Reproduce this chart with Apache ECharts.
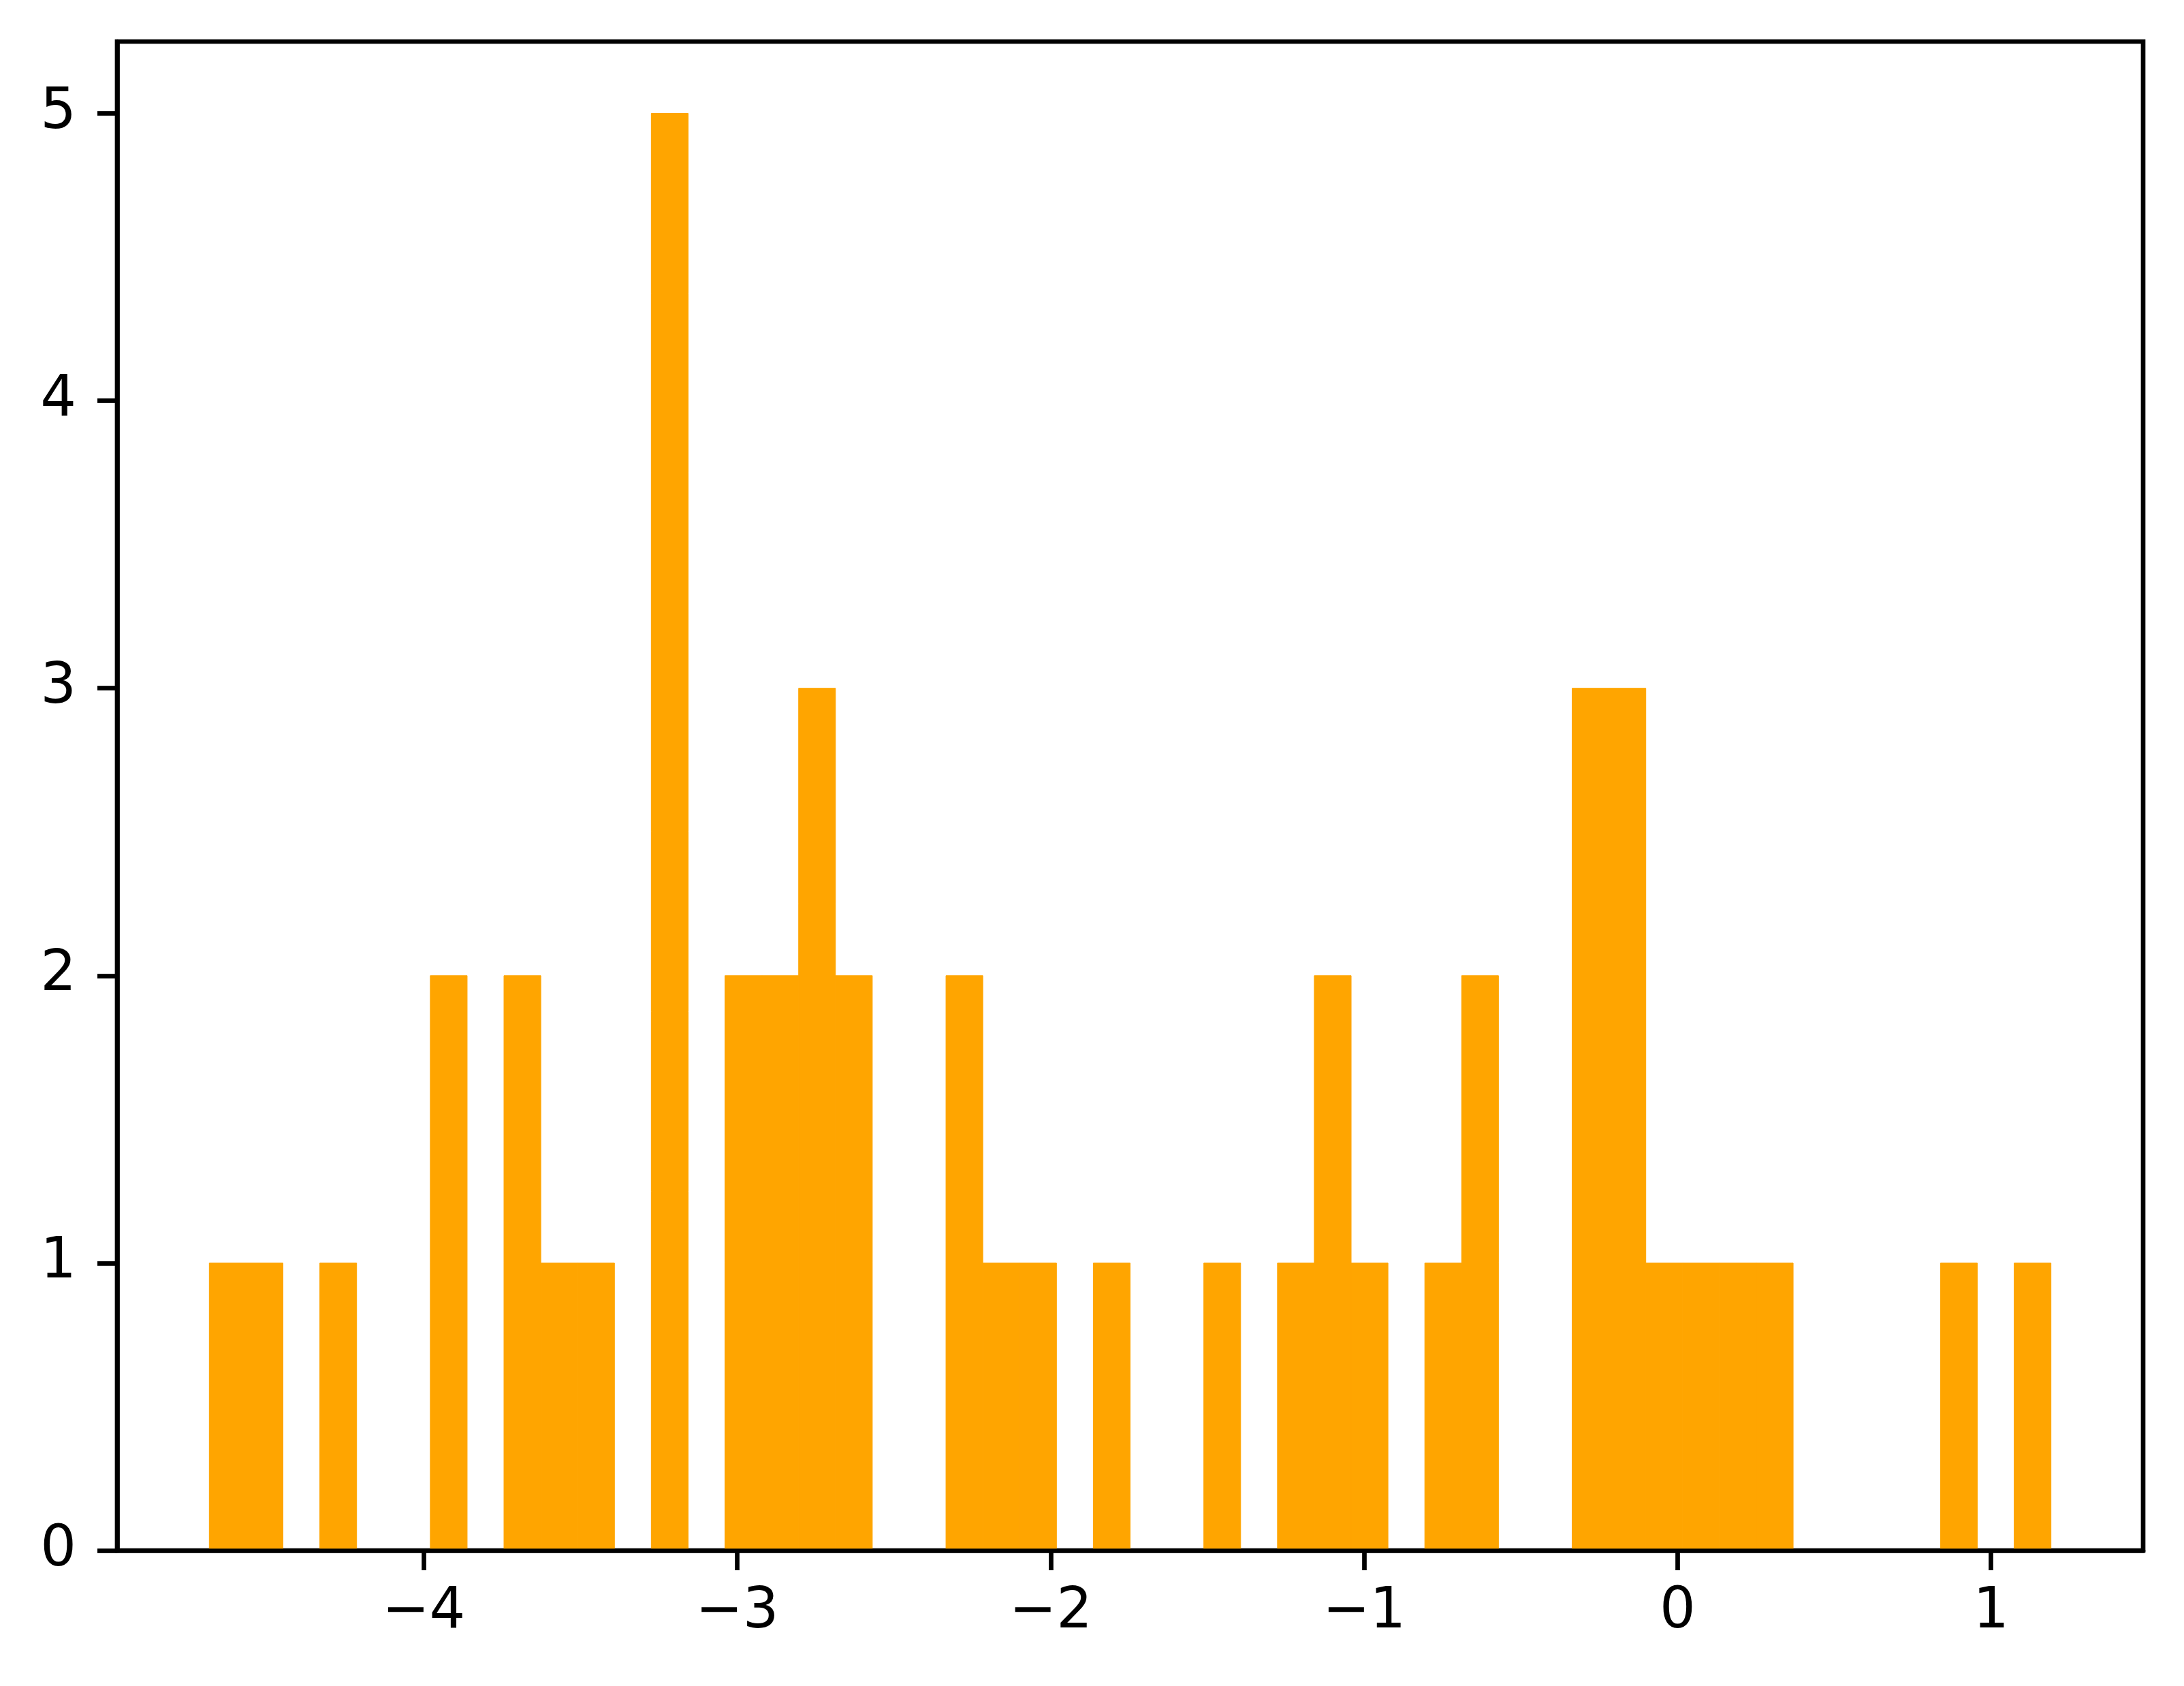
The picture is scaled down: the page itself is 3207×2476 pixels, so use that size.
<!DOCTYPE html>
<html>
<head>
    <meta charset="utf-8">
    <title>histogram</title>
    <script src="https://cdn.jsdelivr.net/npm/echarts@6/dist/echarts.min.js"></script>
    <style>
        body { margin: 0; background: #fff; }
    </style>
</head>
<body>
<div id="main" style="width: 3207px;height:2476px;"></div>
<script type="text/javascript">
    // histogram bins (50 bins of equal width)
    var binStart = -4.684;
    var binWidth = 0.1175;
    var counts = [1, 1, 0, 1, 0, 0, 2, 0, 2, 1,
                  1, 0, 5, 0, 2, 2, 3, 2, 0, 0,
                  2, 1, 1, 0, 1, 0, 0, 1, 0, 1,
                  2, 1, 0, 1, 2, 0, 0, 3, 3, 1,
                  1, 1, 1, 0, 0, 0, 0, 1, 0, 1];
    var xTicks = [-4, -3, -2, -1, 0, 1];
    var yTicks = [0, 1, 2, 3, 4, 5];

    var bars = [];
    for (var i = 0; i < counts.length; i++) {
        bars.push([binStart + i * binWidth, binStart + (i + 1) * binWidth, counts[i]]);
    }

    function fmt(v) {
        return v < 0 ? '\u2212' + Math.abs(v) : String(v);
    }

    var lw = 6.7;
    var myChart = echarts.init(document.getElementById('main'));
    var option = {
        animation: false,
        backgroundColor: '#fff',
        grid: {
            left: 172, right: 60, top: 61, bottom: 199,
            show: true, borderColor: '#000', borderWidth: lw
        },
        xAxis: {
            type: 'value',
            min: -4.978, max: 1.485,
            z: 10,
            splitLine: { show: false },
            axisLine: { show: true, onZero: false, lineStyle: { color: '#000', width: lw } },
            axisTick: { show: true, length: 29, customValues: xTicks, lineStyle: { color: '#000', width: lw } },
            axisLabel: {
                customValues: xTicks, formatter: fmt, margin: 50,
                color: '#000', fontSize: 83, fontFamily: 'DejaVu Sans'
            }
        },
        yAxis: {
            type: 'value',
            min: 0, max: 5.25,
            z: 10,
            splitLine: { show: false },
            axisLine: { show: true, onZero: false, lineStyle: { color: '#000', width: lw } },
            axisTick: { show: true, length: 29, customValues: yTicks, lineStyle: { color: '#000', width: lw } },
            axisLabel: {
                customValues: yTicks, formatter: fmt, margin: 60,
                color: '#000', fontSize: 83, fontFamily: 'DejaVu Sans'
            }
        },
        series: [{
            type: 'custom',
            data: bars,
            encode: { x: [0, 1], y: 2 },
            renderItem: function (params, api) {
                var p0 = api.coord([api.value(0), api.value(2)]);
                var p1 = api.coord([api.value(1), 0]);
                return {
                    type: 'rect',
                    shape: { x: p0[0], y: p0[1], width: p1[0] - p0[0], height: p1[1] - p0[1] },
                    style: { fill: '#FFA500', stroke: '#FFA500', lineWidth: 1 }
                };
            }
        }]
    };
    myChart.setOption(option);
</script>
</body>
</html>
